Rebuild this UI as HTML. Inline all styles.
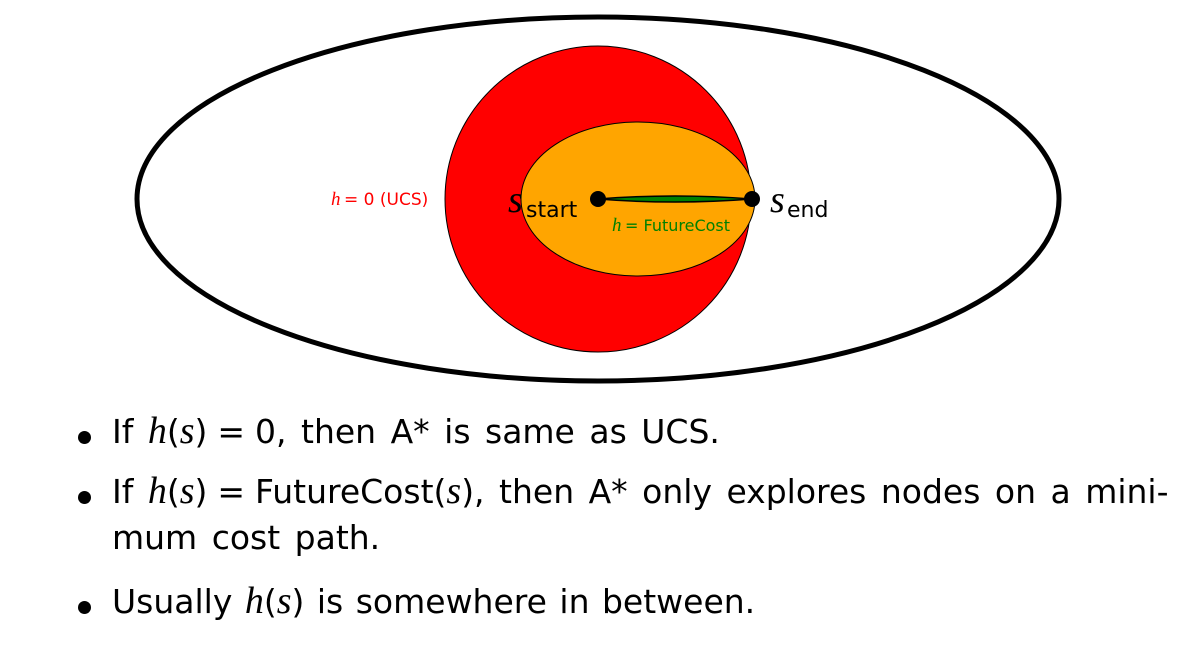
<!DOCTYPE html>
<html><head><meta charset="utf-8"><style>
body{margin:0;width:1195px;height:649px;background:#fff;overflow:hidden;font-family:"DejaVu Sans","Liberation Sans",sans-serif}
.t{position:absolute;font-size:33px;line-height:40px;color:#000;white-space:nowrap;word-spacing:4px}
i{font-family:"Liberation Serif",serif;font-size:38px;line-height:1}
.m{margin:0 10px}
.b{position:absolute;left:78px;width:13px;height:13px;border-radius:50%;background:#000}
</style></head><body>
<svg width="1195" height="400" style="position:absolute;left:0;top:0">
<ellipse cx="598" cy="199" rx="461" ry="182" fill="none" stroke="#000" stroke-width="5"/>
<circle cx="598" cy="199" r="153" fill="#f00" stroke="#000" stroke-width="1"/>
<ellipse cx="638" cy="199" rx="117" ry="77" fill="#ffa500" stroke="#000" stroke-width="1"/>
<path d="M598 199 Q675 193 752 199 Q675 205 598 199Z" fill="#008000" stroke="#000" stroke-width="1.5"/>
<circle cx="598" cy="199" r="8" fill="#000"/>
<circle cx="752" cy="199" r="8" fill="#000"/>
<text x="331" y="205" font-size="19" fill="#f00" font-family="Liberation Serif" font-style="italic">h</text>
<text x="344" y="205" font-size="17" fill="#f00" font-family="DejaVu Sans">= 0 (UCS)</text>
<text x="508" y="212" font-size="38" font-family="Liberation Serif" font-style="italic">s</text>
<text x="526" y="217" font-size="22" font-family="DejaVu Sans">start</text>
<text x="612" y="231" font-size="19" fill="#008000" font-family="Liberation Serif" font-style="italic">h</text>
<text x="625" y="231" font-size="16" fill="#008000" font-family="DejaVu Sans">= FutureCost</text>
<text x="770" y="212" font-size="38" font-family="Liberation Serif" font-style="italic">s</text>
<text x="787" y="217" font-size="22" font-family="DejaVu Sans">end</text>
</svg>
<div class="b" style="top:431px"></div>
<div class="t" style="left:112px;top:412px">If <i>h</i>(<i>s</i>)<span class="m">=</span>0, then A* is same as UCS.</div>
<div class="b" style="top:491px"></div>
<div class="t" style="left:112px;top:472px;word-spacing:4px">If <i>h</i>(<i>s</i>)<span class="m">=</span>FutureCost(<i>s</i>), then A* only explores nodes on a mini-</div>
<div class="t" style="left:112px;top:518px">mum cost path.</div>
<div class="b" style="top:601px"></div>
<div class="t" style="left:112px;top:582px;word-spacing:2px">Usually <i>h</i>(<i>s</i>) is somewhere in between.</div>
</body></html>
